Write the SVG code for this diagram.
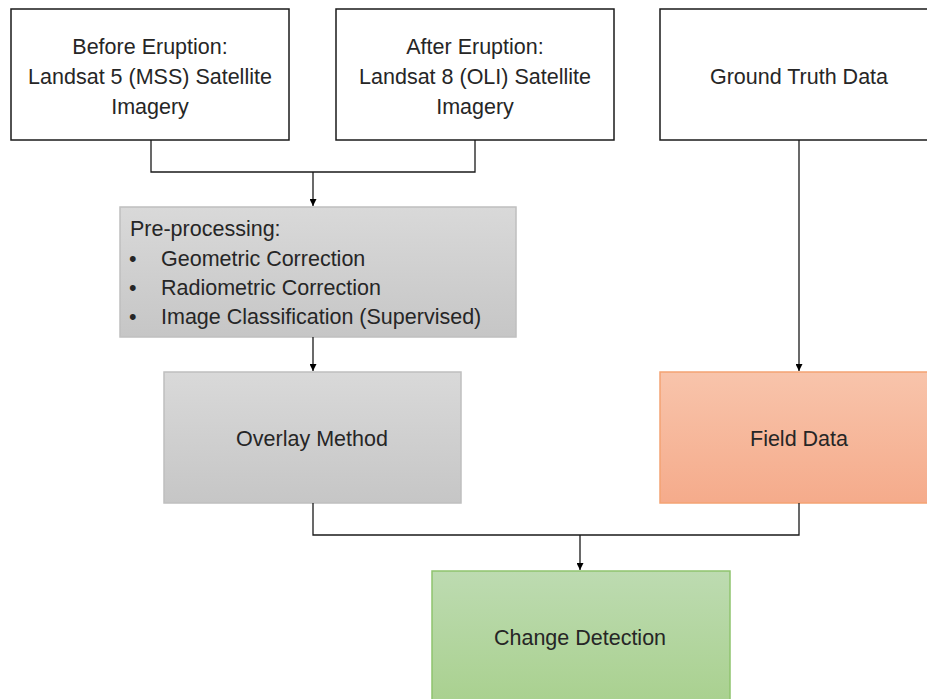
<svg xmlns="http://www.w3.org/2000/svg" width="927" height="699" viewBox="0 0 927 699">
<defs>
  <linearGradient id="gGray" x1="0" y1="0" x2="0" y2="1">
    <stop offset="0" stop-color="#d9d9d9"/>
    <stop offset="1" stop-color="#c6c6c6"/>
  </linearGradient>
  <linearGradient id="gOrange" x1="0" y1="0" x2="0" y2="1">
    <stop offset="0" stop-color="#f8c4ab"/>
    <stop offset="1" stop-color="#f5ab8b"/>
  </linearGradient>
  <linearGradient id="gGreen" x1="0" y1="0" x2="0" y2="1">
    <stop offset="0" stop-color="#bddbb1"/>
    <stop offset="1" stop-color="#a8d08d"/>
  </linearGradient>
  <marker id="arr" viewBox="0 0 10 10" refX="10" refY="5" markerWidth="7" markerHeight="7" markerUnits="userSpaceOnUse" orient="auto">
    <path d="M0,0 L10,5 L0,10 z" fill="#000"/>
  </marker>
</defs>
<style>
  .t { font-family: "Liberation Sans", Arial, sans-serif; font-size: 21.5px; fill: #262626; }
  .c { text-anchor: middle; }
  .white { fill: #ffffff; stroke: #1a1a1a; stroke-width: 1.5; }
  .gray { fill: url(#gGray); stroke: #bfbfbf; stroke-width: 1.5; }
  .orange { fill: url(#gOrange); stroke: #f4a373; stroke-width: 1.5; }
  .green { fill: url(#gGreen); stroke: #8fc36e; stroke-width: 1.5; }
  .line { fill: none; stroke: #1a1a1a; stroke-width: 1.3; }
</style>
<rect width="927" height="699" fill="#ffffff"/>

<g id="before">
  <rect class="white" x="11" y="9" width="278" height="131"/>
  <text class="t c" x="150" y="54">Before Eruption:</text>
  <text class="t c" x="150" y="84">Landsat 5 (MSS) Satellite</text>
  <text class="t c" x="150" y="114">Imagery</text>
</g>
<g id="after">
  <rect class="white" x="336" y="9" width="278" height="131"/>
  <text class="t c" x="475" y="54">After Eruption:</text>
  <text class="t c" x="475" y="84">Landsat 8 (OLI) Satellite</text>
  <text class="t c" x="475" y="114">Imagery</text>
</g>
<g id="ground">
  <rect class="white" x="660" y="9" width="280" height="131"/>
  <text class="t c" x="799" y="84">Ground Truth Data</text>
</g>
<g id="preprocessing">
  <rect class="gray" x="120" y="207" width="396" height="130"/>
  <text class="t" x="130" y="236">Pre-processing:</text>
  <text class="t" x="129" y="266">•</text><text class="t" x="161" y="266">Geometric Correction</text>
  <text class="t" x="129" y="295">•</text><text class="t" x="161" y="295">Radiometric Correction</text>
  <text class="t" x="129" y="324">•</text><text class="t" x="161" y="324">Image Classification (Supervised)</text>
</g>
<g id="overlay">
  <rect class="gray" x="164" y="372" width="297" height="131"/>
  <text class="t c" x="312" y="446">Overlay Method</text>
</g>
<g id="field">
  <rect class="orange" x="660" y="372" width="280" height="131"/>
  <text class="t c" x="799" y="446">Field Data</text>
</g>
<g id="change">
  <rect class="green" x="432" y="571" width="298" height="140"/>
  <text class="t c" x="580" y="645">Change Detection</text>
</g>

<g id="connectors">
  <path class="line" d="M151,140 V172 H475 V140"/>
  <path class="line" d="M313,172 V206" marker-end="url(#arr)"/>
  <path class="line" d="M313,337 V371" marker-end="url(#arr)"/>
  <path class="line" d="M799,140 V371" marker-end="url(#arr)"/>
  <path class="line" d="M313,503 V535 H799 V503"/>
  <path class="line" d="M580,535 V570" marker-end="url(#arr)"/>
</g>
</svg>
